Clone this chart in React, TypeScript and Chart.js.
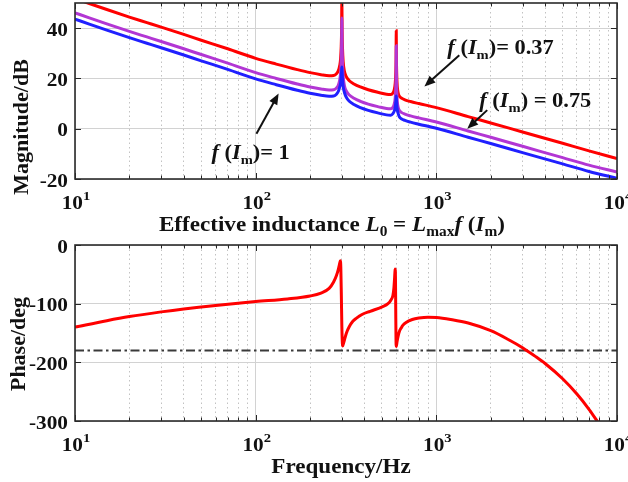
import React, { useEffect, useRef } from "react";
import { Chart, registerables } from "chart.js";

Chart.register(...registerables);

// ---------------- data ----------------
const freqRange = [10, 10000];
const magRange = [-20, 50];
const phaseRange = [-300, 0];

const decades = [10, 100, 1000, 10000];
const decadeExponents = ["1", "2", "3", "4"];
const minorMultipliers = [2, 3, 4, 5, 6, 7, 8, 9];
const magTicks = [-20, 0, 20, 40];
const magTickLabels = ["-20", "0", "20", "40"];
const phaseTicks = [-300, -200, -100, 0];
const phaseTickLabels = ["-300", "-200", "-100", "0"];

const freqMag = [
  10, 12, 15, 20, 25, 30, 40, 50, 70, 100, 130, 170, 200, 230, 255, 270, 280, 287, 292, 295,
  297.5, 299, 300, 301, 302.5, 305, 310, 318, 330, 350, 380, 420, 480, 530, 560, 575, 585, 592, 596, 598.5,
  600, 601.5, 604, 608, 615, 625, 640, 670, 720, 800, 1000, 1500, 2000, 3000, 5000, 7000, 10000,
];
// f(Im) = 1
const magF1 = [
  43.6, 41.6, 39.2, 36.2, 34.0, 32.2, 29.3, 27.0, 23.6, 19.8, 17.5, 15.3, 14.1, 13.3, 12.9, 13.0, 13.7, 14.9, 16.6, 18.0,
  20.5, 23.0, 24.5, 22.5, 19.5, 16.8, 14.4, 12.4, 10.9, 9.6, 8.4, 7.3, 6.2, 5.5, 5.4, 6.0, 7.0, 8.5, 10.3, 11.8,
  13.0, 11.5, 9.6, 7.6, 6.0, 4.7, 4.0, 3.3, 2.6, 1.8, 0.2, -3.4, -5.9, -9.5, -14.0, -17.0, -19.7,
];
// f(Im) = 0.75
const magF075 = [
  46.1, 44.1, 41.7, 38.7, 36.5, 34.7, 31.8, 29.5, 26.1, 22.3, 20.0, 17.8, 16.6, 15.8, 15.4, 15.5, 16.2, 17.4, 19.5, 22.0,
  27.0, 34.0, 44.0, 33.5, 26.3, 21.0, 17.1, 14.9, 13.4, 12.1, 10.9, 9.8, 8.7, 8.0, 7.9, 8.5, 9.9, 12.3, 16.1, 22.0,
  33.0, 22.0, 15.3, 11.0, 8.5, 7.2, 6.5, 5.8, 5.1, 4.3, 2.7, -0.9, -3.4, -7.0, -11.5, -14.5, -17.2,
];
// f(Im) = 0.37
const magF037 = [
  51.8, 49.8, 47.4, 44.4, 42.2, 40.4, 37.5, 35.2, 31.8, 28.0, 25.7, 23.5, 22.3, 21.5, 21.1, 21.2, 21.9, 23.1, 25.2, 27.7,
  32.7, 39.7, 52.0, 39.2, 32.0, 26.7, 22.8, 20.6, 19.1, 17.8, 16.6, 15.5, 14.4, 13.7, 13.6, 14.2, 15.6, 18.0, 21.8, 27.7,
  39.0, 27.7, 21.0, 16.7, 14.2, 12.9, 12.2, 11.5, 10.8, 10.0, 8.4, 4.8, 2.3, -1.3, -5.8, -8.8, -11.9,
];

const freqPhase = [
  10, 15, 20, 30, 40, 60, 100, 150, 200, 230, 255, 270, 280, 287, 292, 294, 296, 298, 300, 302,
  303.5, 306, 310, 318, 330, 345, 360, 390, 430, 505, 540, 560, 575, 582, 587, 590, 592, 594, 596, 598,
  600, 606, 615, 625, 640, 652, 680, 736, 800, 900, 1000, 1200, 1500, 2000, 2500, 3000, 3500, 4000, 5000, 6000,
  7000, 8000,
];
const phaseF037 = [
  -140, -129, -122, -114, -109, -103, -96.5, -92, -87, -82, -74, -63, -52, -41, -31, -27, -38, -85, -140, -168,
  -172, -168, -162, -150, -139, -130, -125, -118, -113, -105, -100, -94, -86, -74, -58, -46, -41, -55, -110, -160,
  -173, -165, -155, -147, -141, -137, -132, -127, -124.5, -123, -123.5, -127, -133, -146, -161, -175, -189, -202, -228, -254,
  -280, -306,
];
const phaseCritical = -180;

// annotation anchors in data space [freq, dB]
const noteF1Text = [56.9, -12];
const noteF1Arrow = [[101, -2], [134, 14]];
const noteF037Text = [1151, 29.6];
const noteF037Arrow = [[1340, 29.2], [859, 16.8]];
const noteF075Text = [1729, 8.8];
const noteF075Arrow = [[1913, 7.4], [1483, 0]];

// ---------------- styling helpers ----------------
const FONT = '"Liberation Serif", "Times New Roman", serif';
const RED = "#ff0000";
const PURPLE = "#b236d4";
const BLUE = "#2020ff";
const INK = "#111111";

const xGrid: number[] = [];
decades.slice(0, 3).forEach((d) => {
  xGrid.push(d);
  minorMultipliers.forEach((m) => xGrid.push(d * m));
});
xGrid.push(decades[3]);
const isDecade = (v: number) => decades.includes(v);

type Run = { t: string; it?: boolean; sub?: boolean; sup?: boolean };

function runsWidth(ctx: CanvasRenderingContext2D, runs: Run[], size: number) {
  let w = 0;
  runs.forEach((r) => {
    const s = r.sub || r.sup ? Math.round(size * 0.66) : size;
    ctx.font = `${r.it ? "italic " : ""}bold ${s}px ${FONT}`;
    w += ctx.measureText(r.t).width;
  });
  return w;
}

function drawRuns(
  ctx: CanvasRenderingContext2D,
  runs: Run[],
  x: number,
  y: number,
  size: number,
  align: "left" | "center" | "right",
  sx: number
) {
  const w = runsWidth(ctx, runs, size);
  ctx.save();
  ctx.translate(x, y);
  ctx.scale(sx, 1);
  ctx.fillStyle = INK;
  ctx.textAlign = "left";
  ctx.textBaseline = "alphabetic";
  let cx = align === "center" ? -w / 2 : align === "right" ? -w : 0;
  runs.forEach((r) => {
    const s = r.sub || r.sup ? Math.round(size * 0.66) : size;
    ctx.font = `${r.it ? "italic " : ""}bold ${s}px ${FONT}`;
    const dy = r.sub ? size * 0.25 : r.sup ? -size * 0.47 : 0;
    ctx.fillText(r.t, cx, dy);
    cx += ctx.measureText(r.t).width;
  });
  ctx.restore();
}

function drawArrow(ctx: CanvasRenderingContext2D, x1: number, y1: number, x2: number, y2: number) {
  const a = Math.atan2(y2 - y1, x2 - x1);
  const hl = 11;
  const hw = 4.5;
  const c = Math.cos(a);
  const s = Math.sin(a);
  ctx.save();
  ctx.strokeStyle = INK;
  ctx.fillStyle = INK;
  ctx.lineWidth = 2;
  ctx.beginPath();
  ctx.moveTo(x1, y1);
  ctx.lineTo(x2 - hl * 0.8 * c, y2 - hl * 0.8 * s);
  ctx.stroke();
  ctx.beginPath();
  ctx.moveTo(x2, y2);
  ctx.lineTo(x2 - hl * c + hw * s, y2 - hl * s - hw * c);
  ctx.lineTo(x2 - hl * c - hw * s, y2 - hl * s + hw * c);
  ctx.closePath();
  ctx.fill();
  ctx.restore();
}

const fIm = (tail: string): Run[] => [
  { t: "f", it: true },
  { t: " (" },
  { t: "I", it: true },
  { t: "m", sub: true },
  { t: tail },
];

type PanelSpec = {
  height: number;
  plotTop: number;
  plotBottom: number;
  yRange: number[];
  yTicks: number[];
  yTickLabels: string[];
  yTitle: string;
  yTitleCenter: number;
  yTitleBaseX: number;
  xTitle: Run[];
  xTitleShift: number;
  datasets: any[];
  notes?: (ctx: CanvasRenderingContext2D, chart: any) => void;
};

function makeConfig(p: PanelSpec): any {
  const frame = {
    id: "matlabFrame",
    afterDraw(chart: any) {
      const ctx: CanvasRenderingContext2D = chart.ctx;
      const a = chart.chartArea;
      const xs = chart.scales.x;
      const ys = chart.scales.y;
      ctx.save();
      ctx.strokeStyle = "#262626";
      ctx.lineWidth = 1;
      ctx.beginPath();
      xGrid.forEach((v) => {
        const px = Math.round(xs.getPixelForValue(v)) + 0.5;
        const len = isDecade(v) ? 6 : 3.5;
        ctx.moveTo(px, a.bottom);
        ctx.lineTo(px, a.bottom - len);
        ctx.moveTo(px, a.top);
        ctx.lineTo(px, a.top + len);
      });
      p.yTicks.forEach((v) => {
        const py = Math.round(ys.getPixelForValue(v)) + 0.5;
        ctx.moveTo(a.left, py);
        ctx.lineTo(a.left + 6, py);
        ctx.moveTo(a.right, py);
        ctx.lineTo(a.right - 6, py);
      });
      ctx.stroke();
      ctx.lineWidth = 1.6;
      ctx.strokeStyle = "#2b2b2b";
      ctx.strokeRect(a.left, a.top, a.right - a.left, a.bottom - a.top);

      p.yTicks.forEach((v, i) => {
        const py = ys.getPixelForValue(v);
        drawRuns(ctx, [{ t: p.yTickLabels[i] }], a.left - 7, py + 7.5, 19, "right", 1.12);
      });
      decades.forEach((v, i) => {
        const px = xs.getPixelForValue(v);
        drawRuns(ctx, [{ t: "10" }, { t: decadeExponents[i], sup: true }], px + 1, a.bottom + 30, 19, "center", 1.12);
      });
      drawRuns(ctx, p.xTitle, (a.left + a.right) / 2 + p.xTitleShift, a.bottom + 52, 21, "center", 1.1);
      ctx.save();
      ctx.translate(p.yTitleBaseX, p.yTitleCenter);
      ctx.rotate(-Math.PI / 2);
      ctx.font = `bold 22px ${FONT}`;
      ctx.fillStyle = INK;
      ctx.textAlign = "center";
      ctx.textBaseline = "alphabetic";
      ctx.fillText(p.yTitle, 0, 0);
      ctx.restore();

      if (p.notes) p.notes(ctx, chart);
      ctx.restore();
    },
  };

  return {
    type: "line",
    data: { datasets: p.datasets },
    options: {
      animation: false,
      responsive: false,
      maintainAspectRatio: false,
      devicePixelRatio: 1,
      events: [],
      layout: { padding: { left: 0, right: 11, top: p.plotTop, bottom: 0 } },
      plugins: { legend: { display: false }, tooltip: { enabled: false }, title: { display: false } },
      elements: { point: { radius: 0 } },
      scales: {
        x: {
          type: "logarithmic",
          min: freqRange[0],
          max: freqRange[1],
          afterBuildTicks: (s: any) => {
            s.ticks = xGrid.map((v) => ({ value: v, major: isDecade(v) }));
          },
          afterFit: (s: any) => {
            s.height = p.height - p.plotBottom;
          },
          ticks: { display: false },
          grid: {
            drawTicks: false,
            lineWidth: 1,
            color: (c: any) => (c.tick && isDecade(c.tick.value) ? "#d2d2d2" : "#c2c2c2"),
          },
          border: {
            display: false,
            dash: (c: any) => (c.tick && isDecade(c.tick.value) ? [] : [1.5, 3]),
          },
        },
        y: {
          type: "linear",
          min: p.yRange[0],
          max: p.yRange[1],
          afterBuildTicks: (s: any) => {
            s.ticks = p.yTicks.map((v) => ({ value: v }));
          },
          afterFit: (s: any) => {
            s.width = 75;
          },
          ticks: { display: false },
          grid: { drawTicks: false, lineWidth: 1, color: "#d2d2d2" },
          border: { display: false },
        },
      },
    },
    plugins: [frame],
  };
}

function series(xs: number[], ys: number[]) {
  return xs.map((x, i) => ({ x, y: ys[i] }));
}

export default function App() {
  const topRef = useRef<HTMLCanvasElement | null>(null);
  const botRef = useRef<HTMLCanvasElement | null>(null);

  useEffect(() => {
    const lineBase = {
      pointRadius: 0,
      borderWidth: 3,
      fill: false,
      cubicInterpolationMode: "monotone",
      clip: 0,
    };

    const topSpec: PanelSpec = {
      height: 240,
      plotTop: 3,
      plotBottom: 179,
      yRange: magRange,
      yTicks: magTicks,
      yTickLabels: magTickLabels,
      yTitle: "Magnitude/dB",
      yTitleCenter: 127,
      yTitleBaseX: 28,
      xTitle: [
        { t: "Effective inductance " },
        { t: "L", it: true },
        { t: "0", sub: true },
        { t: " = " },
        { t: "L", it: true },
        { t: "max", sub: true },
        { t: "f", it: true },
        { t: " (" },
        { t: "I", it: true },
        { t: "m", sub: true },
        { t: ")" },
      ],
      xTitleShift: -14,
      // first dataset is drawn on top: blue over purple over red
      datasets: [
        { ...lineBase, label: "f(Im)=1", data: series(freqMag, magF1), borderColor: BLUE },
        { ...lineBase, label: "f(Im)=0.75", data: series(freqMag, magF075), borderColor: PURPLE },
        { ...lineBase, label: "f(Im)=0.37", data: series(freqMag, magF037), borderColor: RED },
      ],
      notes: (ctx, chart) => {
        const xs = chart.scales.x;
        const ys = chart.scales.y;
        const P = (d: number[]) => [xs.getPixelForValue(d[0]), ys.getPixelForValue(d[1])];
        const t1 = P(noteF1Text);
        drawRuns(ctx, fIm(")= 1"), t1[0], t1[1], 20, "left", 1.12);
        const t2 = P(noteF037Text);
        drawRuns(ctx, fIm(")= 0.37"), t2[0], t2[1], 20, "left", 1.12);
        const t3 = P(noteF075Text);
        drawRuns(ctx, fIm(") = 0.75"), t3[0], t3[1], 20, "left", 1.12);
        [noteF1Arrow, noteF037Arrow, noteF075Arrow].forEach((ar) => {
          const a0 = P(ar[0]);
          const a1 = P(ar[1]);
          drawArrow(ctx, a0[0], a0[1], a1[0], a1[1]);
        });
      },
    };

    const botSpec: PanelSpec = {
      height: 242,
      plotTop: 5,
      plotBottom: 181,
      yRange: phaseRange,
      yTicks: phaseTicks,
      yTickLabels: phaseTickLabels,
      yTitle: "Phase/deg",
      yTitleCenter: 104,
      yTitleBaseX: 25,
      xTitle: [{ t: "Frequency/Hz" }],
      xTitleShift: -5,
      datasets: [
        { ...lineBase, label: "Phase", data: series(freqPhase, phaseF037), borderColor: RED },
        {
          label: "-180",
          data: series(freqRange, [phaseCritical, phaseCritical]),
          borderColor: "#3a3a3a",
          borderWidth: 2,
          borderDash: [9, 3.5, 2.5, 3.5],
          pointRadius: 0,
          fill: false,
          tension: 0,
          clip: 0,
        },
      ],
    };

    const c1 = new Chart(topRef.current as HTMLCanvasElement, makeConfig(topSpec));
    const c2 = new Chart(botRef.current as HTMLCanvasElement, makeConfig(botSpec));
    return () => {
      c1.destroy();
      c2.destroy();
    };
  }, []);

  return (
    <div style={{ position: "fixed", left: 0, top: 0, width: 628, height: 482, background: "#ffffff" }}>
      <canvas ref={topRef} width={628} height={240} style={{ position: "absolute", left: 0, top: 0, width: 628, height: 240 }} />
      <canvas ref={botRef} width={628} height={242} style={{ position: "absolute", left: 0, top: 240, width: 628, height: 242 }} />
    </div>
  );
}
